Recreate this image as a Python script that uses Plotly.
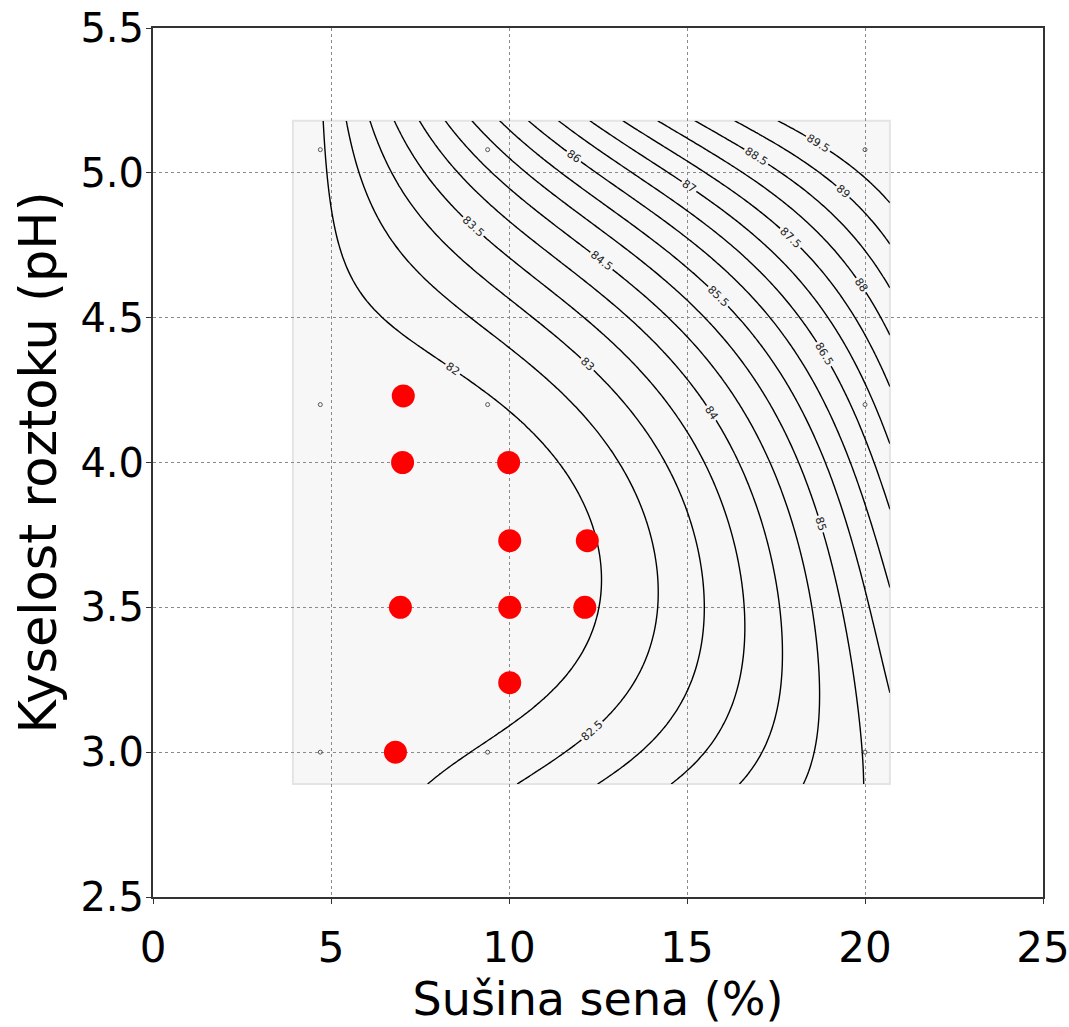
import numpy as np
import plotly.graph_objects as go

# ---- data ----
# 3x3 design (small open circles) and response value estimated at each design point
design_x = [4.7, 9.4, 20.0]          # Sušina sena (%)
design_y = [3.0, 4.2, 5.08]          # Kyselost roztoku (pH)
# rows follow design_y, columns follow design_x
response_at_design = [
    [81.50, 82.08, 85.03],   # pH 3.0
    [81.73, 81.93, 86.80],   # pH 4.2
    [81.915, 84.80, 89.92],  # pH 5.08
]
# extent of the fitted response-surface region (grey box)
surface_x_range = [3.93, 20.7]
surface_y_range = [2.89, 5.18]
contour_start, contour_end, contour_step = 82.0, 89.5, 0.5

# red experiment points
points_x = [7.03, 7.01, 9.99, 10.02, 12.20, 6.95, 10.02, 12.13, 10.02, 6.81]
points_y = [4.23, 4.00, 4.00, 3.73, 3.73, 3.50, 3.50, 3.50, 3.24, 3.00]

x_ticks = [0, 5, 10, 15, 20, 25]
y_ticks = [2.5, 3.0, 3.5, 4.0, 4.5, 5.0, 5.5]


# ---- quadratic response surface through the design values ----
def lagrange_basis(nodes, t):
    t = np.asarray(t, dtype=float)
    out = []
    for i, ni in enumerate(nodes):
        b = np.ones_like(t)
        for j, nj in enumerate(nodes):
            if j != i:
                b = b * (t - nj) / (ni - nj)
        out.append(b)
    return np.array(out)


gx = np.linspace(surface_x_range[0], surface_x_range[1], 170)
gy = np.linspace(surface_y_range[0], surface_y_range[1], 140)
Lx = lagrange_basis(design_x, gx)   # (3, nx)
Ly = lagrange_basis(design_y, gy)   # (3, ny)
Z = Ly.T @ np.array(response_at_design) @ Lx   # (ny, nx)

fig = go.Figure()

fig.add_shape(type="rect", layer="below",
              x0=surface_x_range[0], x1=surface_x_range[1],
              y0=surface_y_range[0], y1=surface_y_range[1],
              fillcolor="#f7f7f7", line=dict(color="#e4e4e4", width=2))

fig.add_trace(go.Contour(
    x=gx, y=gy, z=Z,
    contours=dict(start=contour_start, end=contour_end, size=contour_step,
                  coloring="none", showlabels=True,
                  labelfont=dict(family="DejaVu Sans", size=11, color="#222222")),
    line=dict(color="black", width=1.4, smoothing=1),
    showscale=False, hoverinfo="skip",
))

dx, dy = np.meshgrid(design_x, design_y)
fig.add_trace(go.Scatter(
    x=dx.ravel(), y=dy.ravel(), mode="markers",
    marker=dict(symbol="circle-open", size=4, color="#555555", line=dict(width=1)),
    showlegend=False, hoverinfo="skip",
))

fig.add_trace(go.Scatter(
    x=points_x, y=points_y, mode="markers",
    marker=dict(size=23, color="#ff0000", line=dict(width=0)),
    showlegend=False,
))

axis_common = dict(
    showgrid=True, gridcolor="#8a8a8a", griddash="dot", gridwidth=1,
    showline=True, linecolor="#333333", linewidth=2, mirror=True,
    ticks="outside", ticklen=5, tickcolor="#333333", zeroline=False,
    automargin=False, ticklabeloverflow="allow",
)

fig.update_xaxes(range=[0, 25], tickvals=x_ticks, **axis_common,
                 tickfont=dict(family="DejaVu Sans", size=42, color="black"),
                 ticklabelstandoff=8,
                 title=dict(text="Sušina sena (%)", standoff=8,
                            font=dict(family="DejaVu Sans", size=46, color="black")))
fig.update_yaxes(range=[2.5, 5.5], tickvals=y_ticks, tickformat=".1f", **axis_common,
                 tickfont=dict(family="DejaVu Sans", size=40, color="black"),
                 ticklabelstandoff=-6,
                 title=dict(text="Kyselost roztoku (pH)", standoff=8,
                            font=dict(family="DejaVu Sans", size=51, color="black")))

fig.update_layout(
    width=1069, height=1027,
    margin=dict(l=153, r=26, t=28, b=130),
    paper_bgcolor="white", plot_bgcolor="white",
    showlegend=False,
)

fig.write_html("out.html")
